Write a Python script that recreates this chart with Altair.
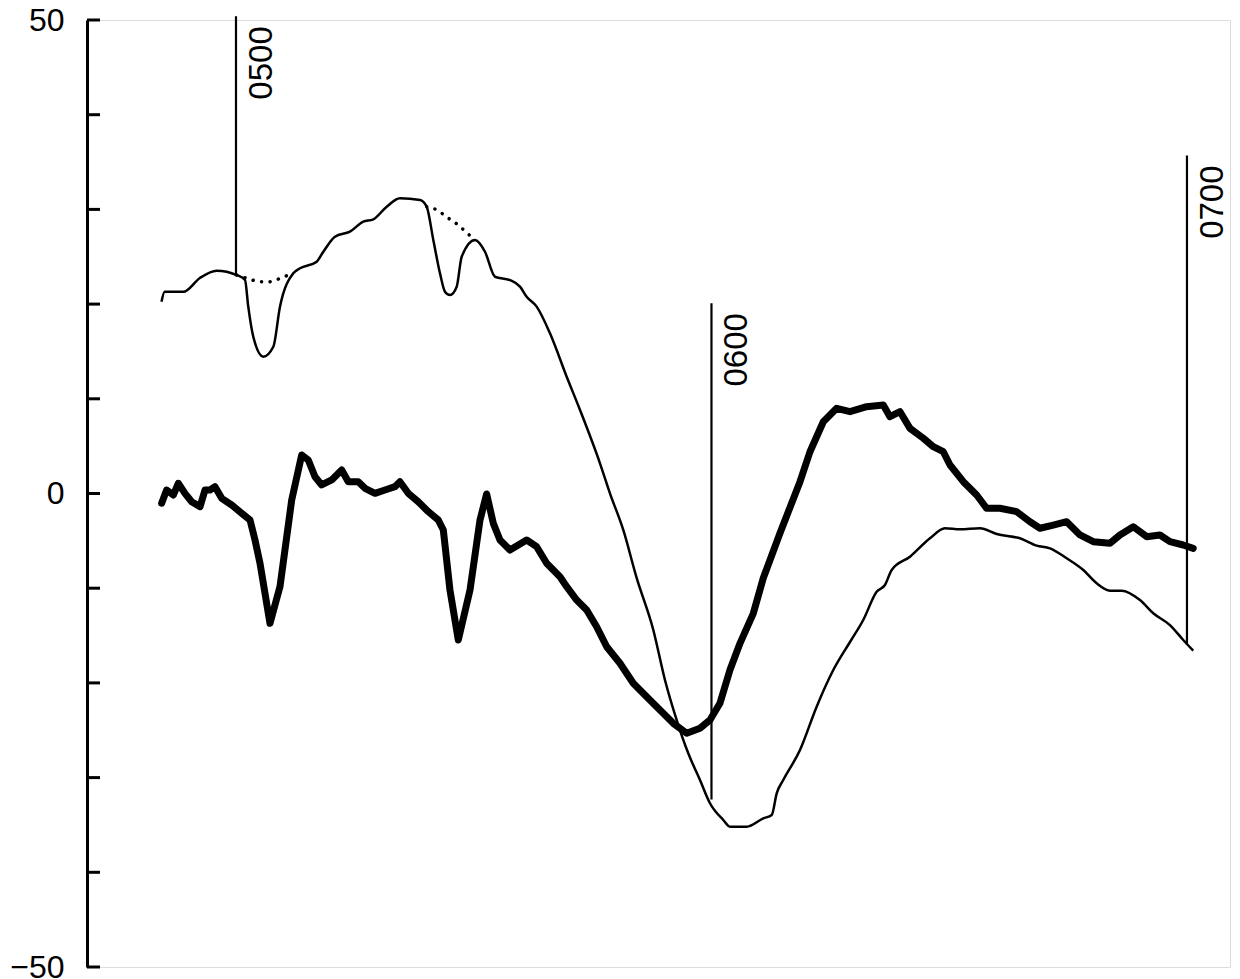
import altair as alt
import pandas as pd

# time in minutes after 04:00 ; values in chart units
thin_t = [50.6, 51.0, 53.35, 55.45, 57.56, 60.09, 61.14, 61.55, 62.18, 63.44, 64.71, 65.55, 67.23, 68.08,
          70.18, 71.02, 72.49, 74.38, 76.06, 77.33, 79.02, 80.69, 83.22, 84.06, 84.9, 85.74, 86.37, 87.0,
          87.85, 88.48, 90.16, 91.42, 92.68, 94.57, 95.84, 96.68, 97.94, 99.62, 101.73, 103.41, 105.93,
          107.19, 108.87, 110.56, 112.66, 114.13, 115.61, 117.07, 118.55, 119.81, 121.49, 122.33, 124.44,
          126.54, 127.6, 128.23, 129.06, 131.17, 133.27, 135.37, 137.48, 139.15, 140.84, 141.89, 142.74,
          145.05, 147.57, 149.46, 151.36, 153.88, 155.99, 158.93, 161.03, 162.71, 164.82, 166.92, 168.6,
          170.28, 171.76, 174.07, 175.75, 177.85, 179.53, 180.79]
thin_v = [20.25, 21.3, 21.3, 22.76, 23.53, 23.07, 22.54, 19.73, 16.56, 14.45, 15.5, 19.73, 23.25, 23.78,
          24.48, 25.53, 27.12, 27.65, 28.7, 28.95, 30.29, 31.17, 30.99, 30.29, 26.77, 23.25, 21.31, 20.96,
          21.84, 25.0, 26.77, 25.53, 22.89, 22.54, 21.84, 20.78, 19.73, 16.92, 12.33, 8.82, 3.19,
          0.02, -3.85, -8.92, -14.41, -19.69, -23.92, -27.43, -30.25, -32.71, -34.48, -35.18, -35.18,
          -34.3, -33.95, -31.66, -30.25, -27.09, -22.51, -18.64, -15.68, -13.36, -10.37, -9.66, -8.08,
          -6.67, -4.73, -3.67, -3.78, -3.67, -4.28, -4.73, -5.51, -5.79, -6.84, -8.08, -9.48,
          -10.26, -10.26, -11.25, -12.65, -13.89, -15.47, -16.6]

dot1_t = [60.09, 61.77, 63.03, 64.16, 65.26, 66.31, 67.23]
dot1_v = [23.07, 22.62, 22.36, 22.36, 22.62, 22.97, 23.25]
dot2_t = [84.06, 84.9, 85.96, 87.0, 88.05, 89.11, 90.16]
dot2_v = [30.29, 30.12, 29.59, 28.95, 28.35, 27.54, 26.77]

thick_t = [50.62, 51.25, 52.09, 52.72, 53.56, 54.41, 55.46, 56.09, 56.72, 57.35, 58.2, 59.46, 60.72, 61.77,
           62.4, 63.03, 64.29, 65.55, 67.03, 68.29, 69.12, 69.97, 70.81, 72.08, 73.34, 74.17, 75.43,
           76.28, 77.54, 78.8, 80.06, 80.69, 81.74, 83.0, 84.27, 85.53, 86.16, 87.0, 88.05, 89.53, 90.79,
           91.63, 92.47, 93.31, 94.57, 96.68, 97.94, 99.2, 100.88, 101.73, 102.99, 104.25, 105.51,
           106.78, 108.45, 110.13, 111.82, 113.5, 115.18, 116.87, 118.55, 119.81, 121.07, 122.33, 123.6,
           125.28, 126.54, 128.64, 131.17, 132.43, 134.11, 135.8, 137.48, 139.58, 141.68, 142.52, 143.79,
           145.05, 146.73, 147.99, 149.25, 150.1, 151.78, 153.46, 154.72, 156.4, 158.51, 160.19, 161.45,
           163.13, 164.82, 166.5, 168.18, 170.28, 171.54, 173.23, 174.92, 176.59, 177.85, 179.53, 180.79]
thick_v = [-1.03, 0.37, -0.16, 1.08, 0.02, -0.87, -1.39, 0.37, 0.37, 0.72, -0.51, -1.21, -2.09, -2.8,
           -4.91, -7.37, -13.71, -9.84, -0.69, 4.07, 3.54, 1.77, 0.9, 1.43, 2.48, 1.25, 1.25,
           0.55, 0.02, 0.37, 0.72, 1.25, 0.02, -0.87, -1.92, -2.8, -3.85, -10.19, -15.47, -10.19, -2.8,
           -0.05, -3.15, -4.91, -5.97, -4.91, -5.62, -7.37, -8.79, -9.84, -11.25, -12.31, -14.07,
           -16.18, -17.93, -20.04, -21.46, -22.86, -24.27, -25.32, -24.79, -23.92, -22.15, -18.64, -15.82,
           -12.65, -8.92, -4.2, 1.25, 4.41, 7.58, 9.0, 8.64, 9.17, 9.35, 8.11, 8.64,
           6.88, 5.83, 4.94, 4.41, 3.01, 1.25, -0.16, -1.56, -1.56, -1.92, -2.98, -3.67,
           -3.33, -2.98, -4.38, -5.09, -5.26, -4.38, -3.51, -4.56, -4.38, -5.09, -5.44, -5.79]

mark_t = [60, 120, 180]
mark_bottom = [23.07, -32.3, -16.0]
mark_top = [50.4, 20.1, 35.7]
mark_label = ["0500", "0600", "0700"]

y_ticks = [50, 40, 30, 20, 10, 0, -10, -20, -30, -40, -50]
y_labels = [50, 0, -50]

FONT = "Liberation Sans"
xs = alt.Scale(domain=[41.2, 185.43], nice=False, zero=False)
ys = alt.Scale(domain=[-50, 50], nice=False, zero=False)

thin_df = pd.DataFrame({"t": thin_t, "v": thin_v})
thick_df = pd.DataFrame({"t": thick_t, "v": thick_v})
dot_df = pd.DataFrame({"t": dot1_t + dot2_t, "v": dot1_v + dot2_v,
                       "seg": ["a"] * len(dot1_t) + ["b"] * len(dot2_t)})
mark_df = pd.DataFrame({"t": mark_t, "b": mark_bottom, "top": mark_top, "lab": mark_label})
tick_df = pd.DataFrame({"v": y_ticks})

X = alt.X("t:Q", scale=xs, axis=None)

base_axis = alt.Chart(tick_df).mark_rule(color="black", strokeWidth=3).encode(
    x=alt.value(0), x2=alt.value(13),
    y=alt.Y("v:Q", scale=ys, axis=alt.Axis(values=y_labels, ticks=False, grid=False, title=None,
                                            domain=True, domainColor="black", domainWidth=3,
                                            labelFont=FONT, labelFontSize=32, labelColor="black",
                                            labelPadding=23)),
)

thin = alt.Chart(thin_df).mark_line(color="black", strokeWidth=2.5, interpolate="monotone").encode(
    x=X, y=alt.Y("v:Q", scale=ys))

thick = alt.Chart(thick_df).mark_line(color="black", strokeWidth=7, interpolate="linear",
                                      strokeJoin="round", strokeCap="round").encode(
    x=X, y=alt.Y("v:Q", scale=ys))

dots = alt.Chart(dot_df).mark_line(color="black", strokeWidth=3.5, strokeDash=[0.1, 8.5],
                                   strokeCap="round", interpolate="monotone").encode(
    x=X, y=alt.Y("v:Q", scale=ys), detail="seg:N")

rules = alt.Chart(mark_df).mark_rule(color="black", strokeWidth=2.2).encode(
    x=X, y=alt.Y("b:Q", scale=ys), y2="top:Q")

labels = alt.Chart(mark_df).mark_text(angle=270, align="right", baseline="middle", dx=-10, dy=26,
                                      font=FONT, fontSize=33, color="black").encode(
    x=X, y=alt.Y("top:Q", scale=ys), text="lab:N")

chart = alt.layer(base_axis, rules, thin, dots, thick, labels).properties(
    width=1143, height=947,
    autosize=alt.AutoSizeParams(type="none"),
    padding={"left": 79, "top": 12, "right": 2, "bottom": 12},
).configure_view(stroke=None).configure(background="white")

chart.save("out.html", embed_options={"renderer": "svg", "actions": False})
